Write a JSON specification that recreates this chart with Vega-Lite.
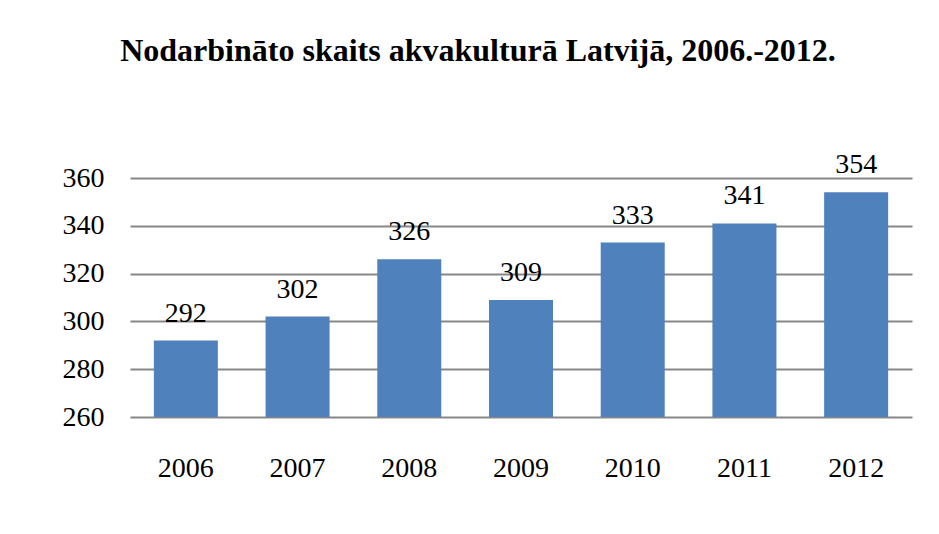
{
  "$schema": "https://vega.github.io/schema/vega-lite/v6.json",
  "width": 782,
  "height": 239,
  "autosize": "none",
  "padding": {"left": 130, "top": 178, "right": 27, "bottom": 117},
  "background": "white",
  "title": {
    "text": "Nodarbināto skaits akvakulturā Latvijā, 2006.-2012.",
    "font": "Liberation Serif",
    "fontSize": 32,
    "fontWeight": "bold",
    "color": "black",
    "anchor": "middle",
    "dx": -43,
    "offset": 83
  },
  "data": {
    "values": [
      {"year": "2006", "value": 292},
      {"year": "2007", "value": 302},
      {"year": "2008", "value": 326},
      {"year": "2009", "value": 309},
      {"year": "2010", "value": 333},
      {"year": "2011", "value": 341},
      {"year": "2012", "value": 354}
    ]
  },
  "encoding": {
    "x": {
      "field": "year",
      "type": "nominal",
      "scale": {"paddingInner": 0.427, "paddingOuter": 0.2135},
      "axis": {
        "title": null,
        "labelAngle": 0,
        "ticks": false,
        "domain": false,
        "labelFont": "Liberation Serif",
        "labelFontSize": 28,
        "labelColor": "black",
        "labelPadding": 37
      }
    },
    "y": {
      "field": "value",
      "type": "quantitative",
      "scale": {"domain": [260, 360], "nice": false, "zero": false},
      "axis": {
        "title": null,
        "values": [260, 280, 300, 320, 340, 360],
        "ticks": false,
        "domain": false,
        "grid": true,
        "gridColor": "#878787",
        "gridWidth": 2,
        "labelFont": "Liberation Serif",
        "labelFontSize": 28,
        "labelColor": "black",
        "labelPadding": 26
      }
    }
  },
  "layer": [
    {
      "mark": {"type": "bar", "color": "#4F81BD"},
      "encoding": {"y2": {"datum": 260}}
    },
    {
      "mark": {
        "type": "text",
        "baseline": "alphabetic",
        "dy": -19,
        "font": "Liberation Serif",
        "fontSize": 28,
        "color": "black"
      },
      "encoding": {"text": {"field": "value", "type": "quantitative"}}
    }
  ],
  "config": {"view": {"stroke": null}, "font": "Liberation Serif"}
}
